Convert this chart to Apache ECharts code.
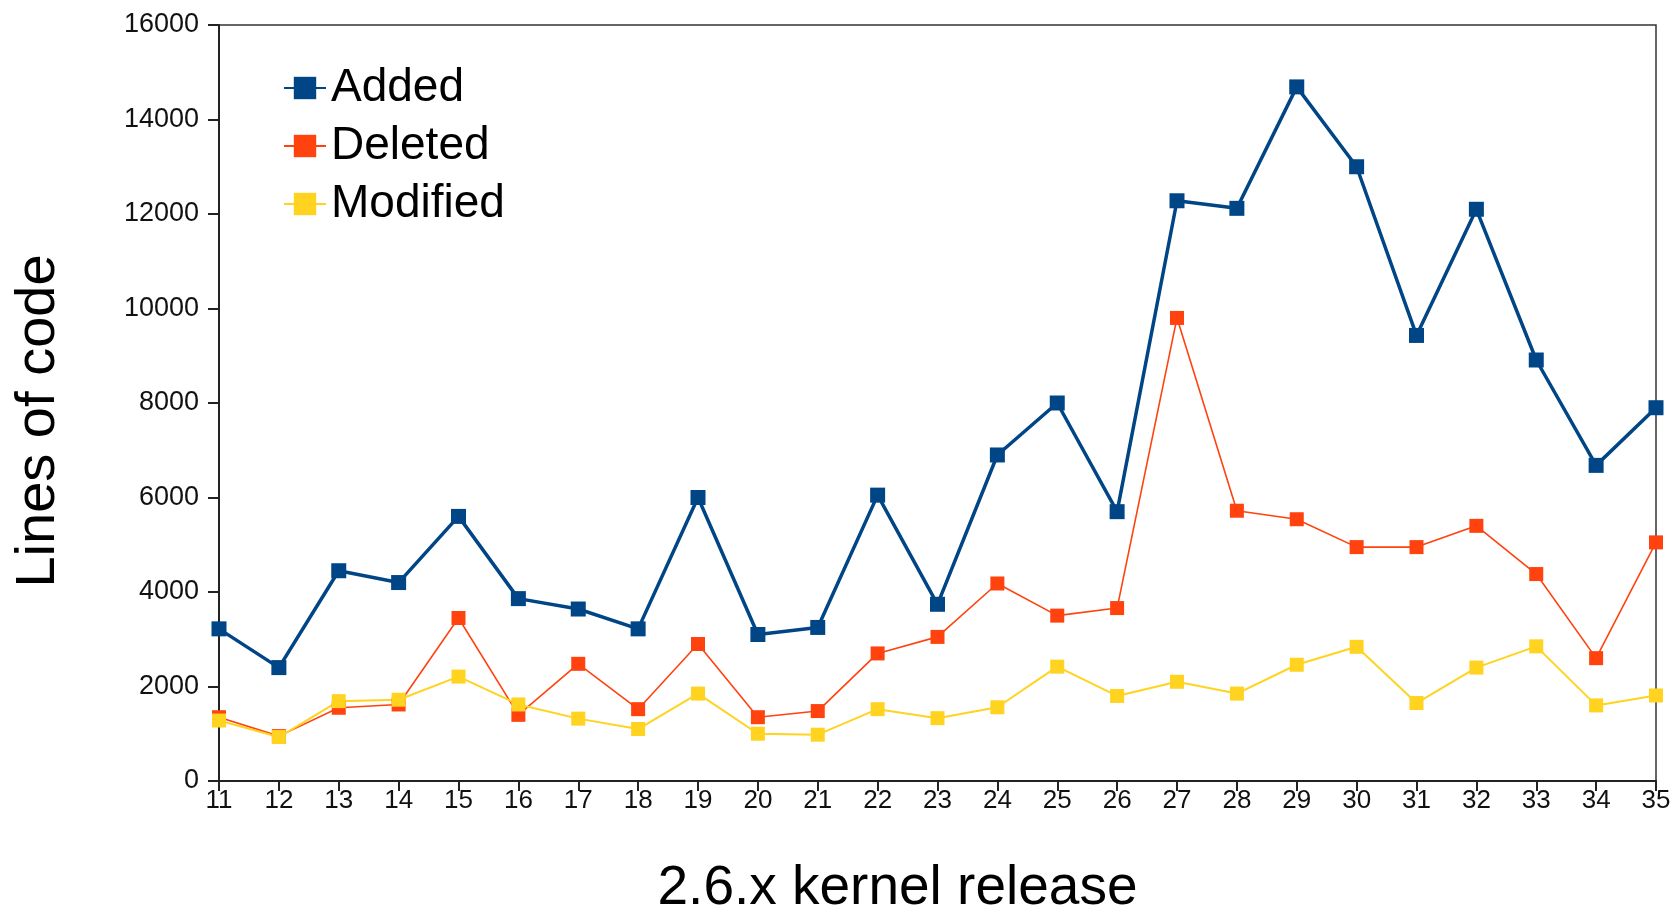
<!DOCTYPE html>
<html>
<head>
<meta charset="utf-8">
<script src="https://cdn.jsdelivr.net/npm/echarts@6/dist/echarts.min.js"></script>
<style>
  html, body { margin: 0; padding: 0; background: #fff; }
  #chart { width: 1675px; height: 911px; }
</style>
</head>
<body>
<div id="chart"></div>
<script>
const releases = ['11','12','13','14','15','16','17','18','19','20','21','22','23','24','25','26','27','28','29','30','31','32','33','34','35'];
const added    = [3220, 2400, 4450, 4200, 5600, 3860, 3640, 3220, 6000, 3100, 3250, 6050, 3740, 6900, 8000, 5700, 12280, 12120, 14690, 13000, 9430, 12100, 8910, 6680, 7900];
const deleted  = [1350, 950, 1550, 1620, 3450, 1400, 2480, 1520, 2900, 1350, 1480, 2700, 3050, 4180, 3500, 3660, 9800, 5720, 5540, 4950, 4950, 5400, 4380, 2600, 5050];
const modified = [1280, 930, 1690, 1720, 2210, 1620, 1320, 1100, 1850, 1000, 980, 1520, 1330, 1560, 2420, 1800, 2100, 1850, 2460, 2840, 1650, 2400, 2850, 1600, 1810];
const yTicks = { min: 0, max: 16000, interval: 2000 };

const FONT = "'Liberation Sans', Arial, sans-serif";
const chart = echarts.init(document.getElementById('chart'));
chart.setOption({
  animation: false,
  backgroundColor: '#ffffff',
  grid: { left: 219, right: 19, top: 25, bottom: 130, outerBoundsMode: 'none', containLabel: false,
          show: true, borderColor: '#333', borderWidth: 1.5, backgroundColor: 'transparent' },
  legend: {
    orient: 'vertical', left: 278, top: 60,
    itemWidth: 42, itemHeight: 28, itemGap: 12,
    textStyle: { fontFamily: FONT, fontSize: 46, color: '#000' },
    data: ['Added', 'Deleted', 'Modified']
  },
  xAxis: {
    type: 'category', data: releases, boundaryGap: false,
    name: '2.6.x kernel release', nameLocation: 'middle', nameGap: 80,
    nameTextStyle: { fontFamily: FONT, fontSize: 55, color: '#000', padding: [0, 80, 0, 0] },
    axisLine: { lineStyle: { color: '#222', width: 2 } },
    axisTick: { show: true, length: 10, alignWithLabel: true, lineStyle: { color: '#222', width: 2 } },
    axisLabel: { fontFamily: FONT, fontSize: 26, color: '#111', margin: 7 },
    splitLine: { show: false }
  },
  yAxis: {
    type: 'value', min: yTicks.min, max: yTicks.max, interval: yTicks.interval,
    name: 'Lines of code', nameLocation: 'middle', nameGap: 152, nameRotate: 90,
    nameTextStyle: { fontFamily: FONT, fontSize: 56, color: '#000', padding: [0, 36, 0, 0] },
    axisLine: { show: true, lineStyle: { color: '#222', width: 2 } },
    axisTick: { show: true, length: 11, lineStyle: { color: '#222', width: 2 } },
    axisLabel: { fontFamily: FONT, fontSize: 27, color: '#111', margin: 20,
                 formatter: function (v) { return String(v); } },
    splitLine: { show: false }
  },
  series: [
    { name: 'Added', type: 'line', data: added, symbol: 'rect', symbolSize: 15,
      lineStyle: { color: '#004586', width: 3.5 }, itemStyle: { color: '#004586' } },
    { name: 'Deleted', type: 'line', data: deleted, symbol: 'rect', symbolSize: 14,
      lineStyle: { color: '#ff420e', width: 1.6 }, itemStyle: { color: '#ff420e' } },
    { name: 'Modified', type: 'line', data: modified, symbol: 'rect', symbolSize: 14,
      lineStyle: { color: '#ffd320', width: 2 }, itemStyle: { color: '#ffd320' } }
  ]
});
</script>
</body>
</html>
